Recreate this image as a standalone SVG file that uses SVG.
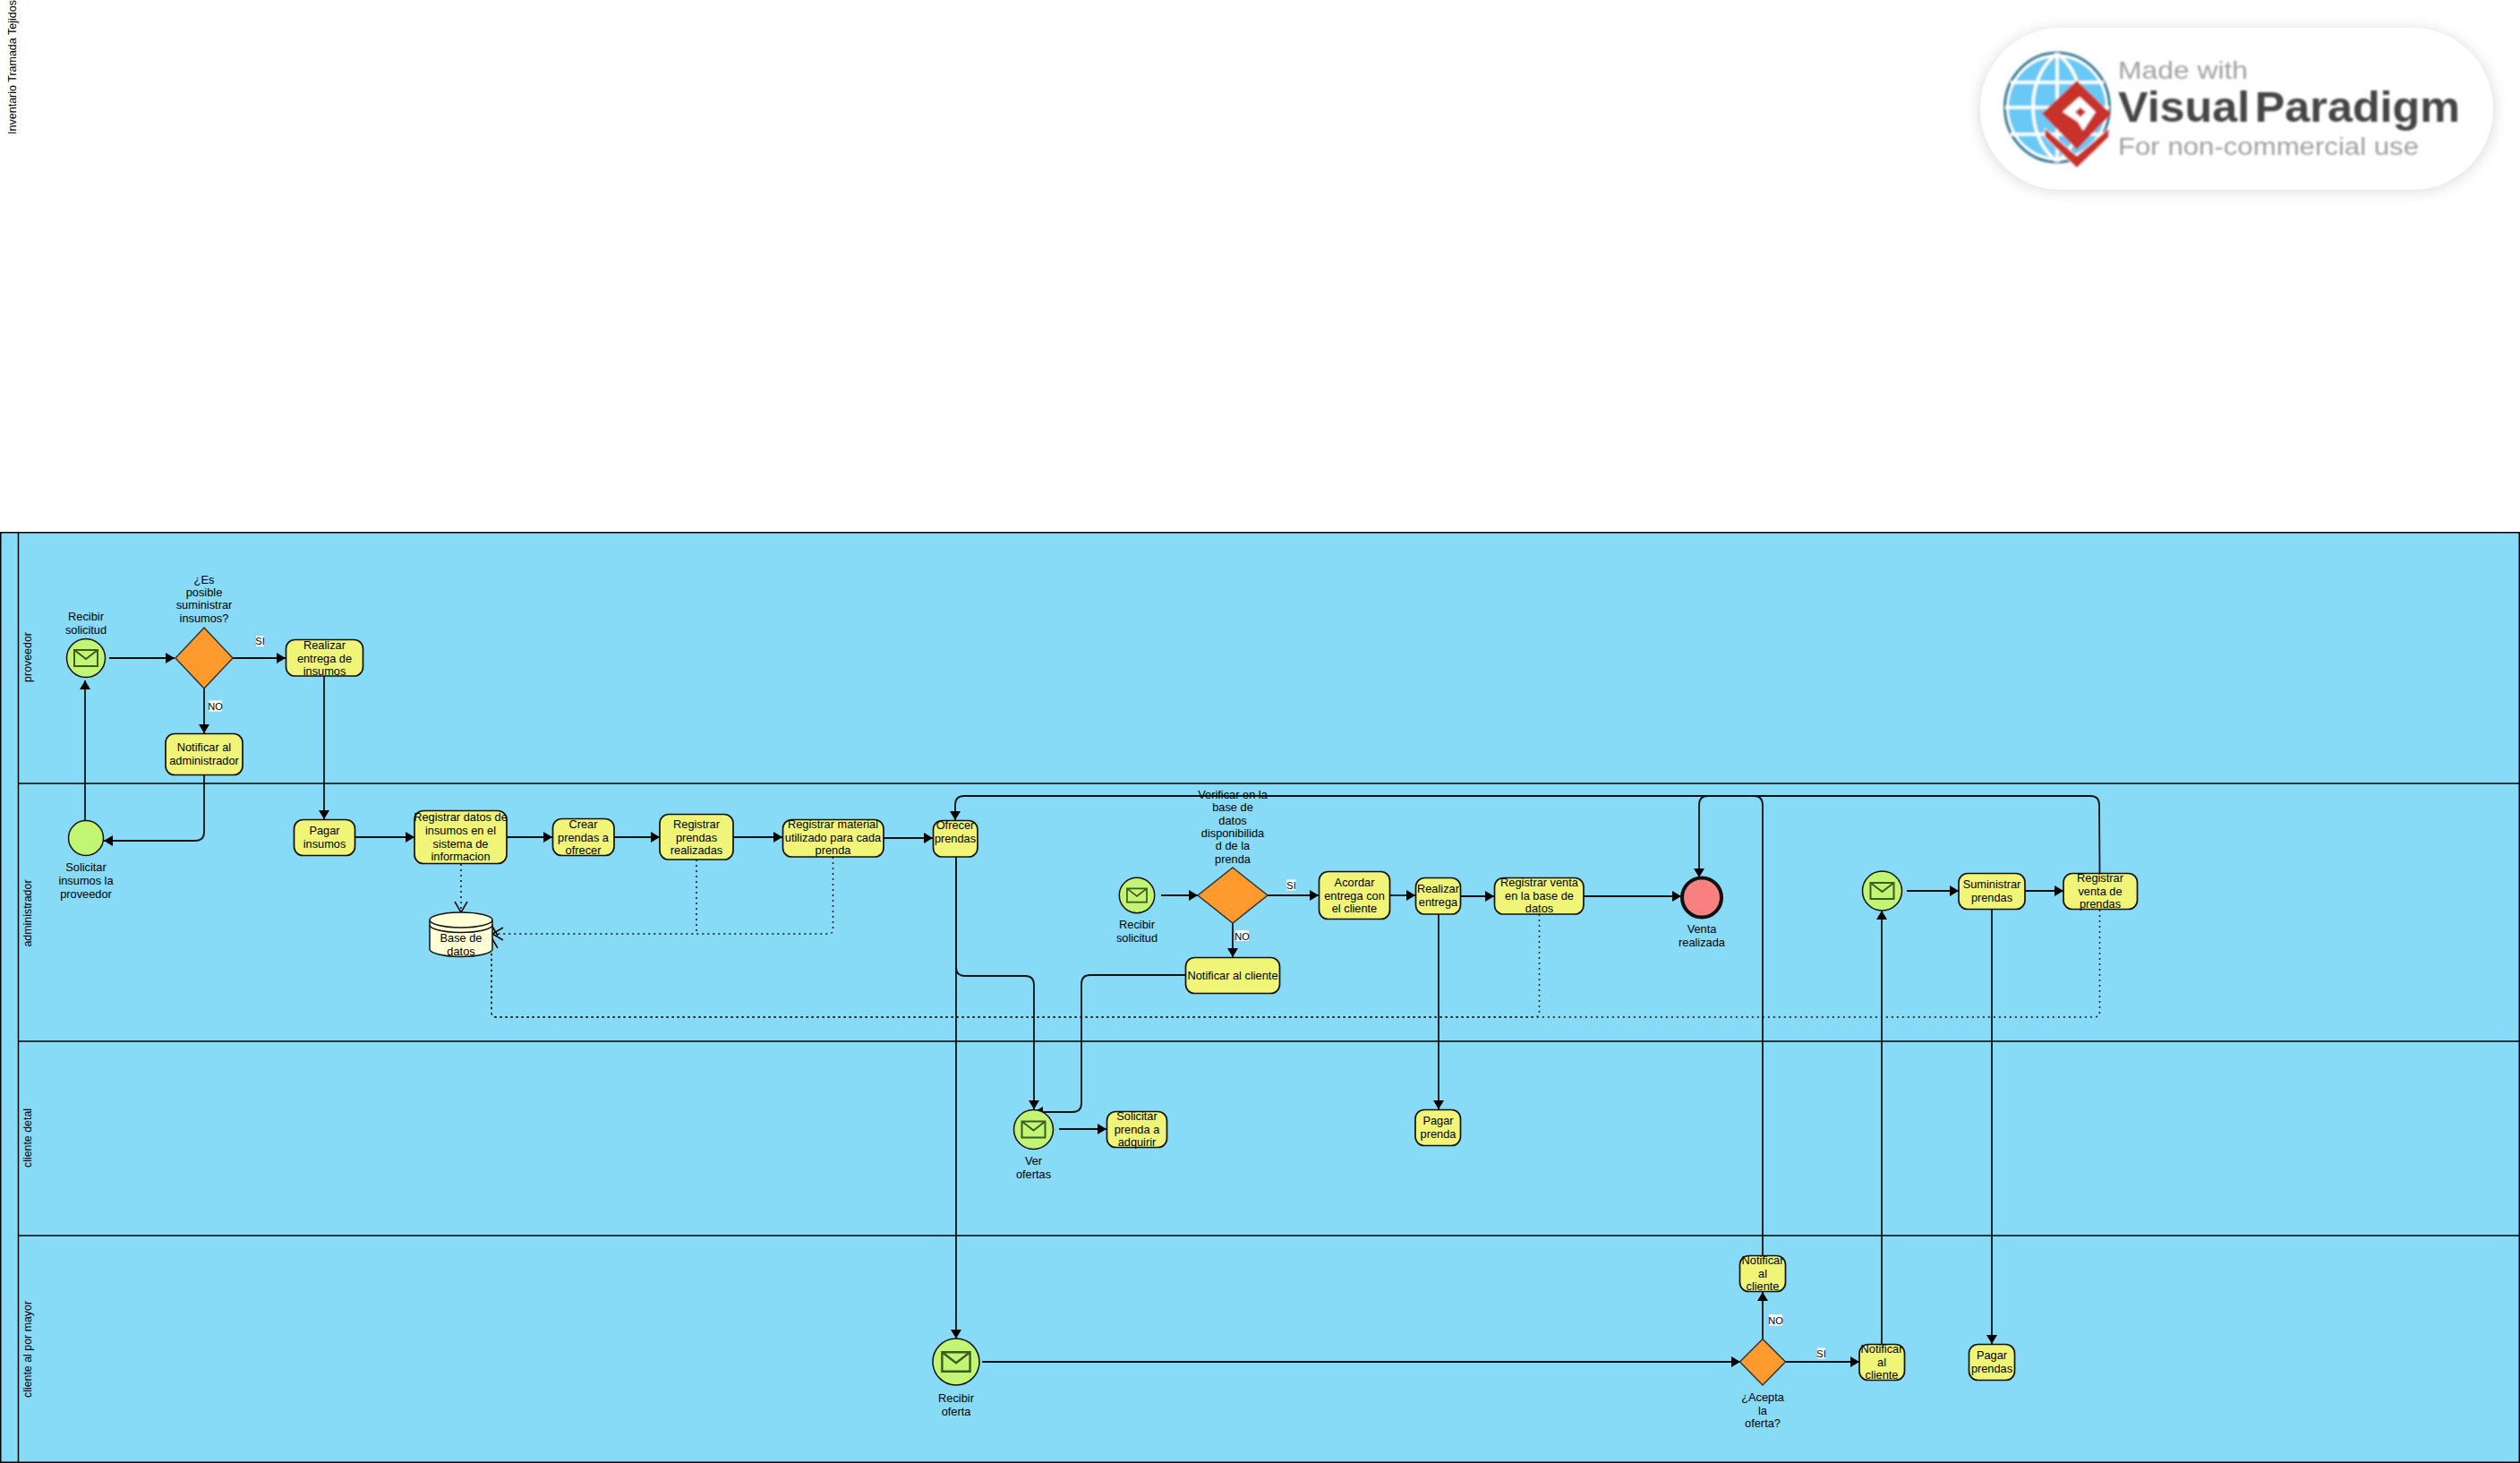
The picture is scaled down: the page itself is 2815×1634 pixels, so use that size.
<svg xmlns="http://www.w3.org/2000/svg" width="2815" height="1634" viewBox="0 0 2815 1634">
<style>
text{font-family:"Liberation Sans",Arial,sans-serif;font-size:12.8px;fill:#000;text-anchor:middle}
.rot{font-size:12.4px}
.lane{fill:#87dbf6;stroke:#000;stroke-width:1.5}
.task{fill:#f0f477;stroke:#111;stroke-width:1.7}
.ev{fill:#c3f575;stroke:#111;stroke-width:1.5}
.gw{fill:#ff9a2e;stroke:#333;stroke-width:1.5}
.env{fill:none;stroke:#3d5a20;stroke-width:2}
.flow{fill:none;stroke:#111;stroke-width:1.8;marker-end:url(#solid)}
.dot{fill:none;stroke:#111;stroke-width:1.5;stroke-dasharray:2 4}
.open{marker-end:url(#open)}
.lbl{fill:#fff}
.sm{font-size:11px}
.vp{text-anchor:start}
</style>
<defs>
<marker id="solid" markerUnits="userSpaceOnUse" markerWidth="12" markerHeight="12" refX="10" refY="6" orient="auto"><path d="M0 0L10 6L0 12Z" fill="#000"/></marker>
<marker id="open" markerUnits="userSpaceOnUse" markerWidth="14" markerHeight="16" refX="13" refY="8" orient="auto"><path d="M1 1L13 8L1 15" fill="none" stroke="#000" stroke-width="1.5"/></marker>
<filter id="sh" x="-10%" y="-25%" width="120%" height="150%"><feGaussianBlur stdDeviation="9"/></filter>
<filter id="soft" x="-5%" y="-5%" width="110%" height="110%"><feGaussianBlur stdDeviation="1.1"/></filter>
<path id="mail" d="M-13 -9H13V9H-13ZM-13 -9L0 1L13 -9"/>
</defs>
<rect width="2815" height="1634" fill="#fff"/>
<text class="rot" style="font-size:12.5px" transform="translate(18 75) rotate(-90)">Inventario Tramada Tejidos</text>
<g id="watermark">
<rect x="2212" y="34" width="573" height="178" rx="89" fill="#000" opacity=".16" filter="url(#sh)"/>
<rect x="2212" y="31" width="573" height="181" rx="90" fill="#fff"/>
<g filter="url(#soft)">
<ellipse cx="2298" cy="120" rx="54" ry="56" fill="#6ac8f5"/>
<ellipse cx="2298" cy="120" rx="58.5" ry="61" fill="none" stroke="#3b7d94" stroke-width="3"/>
<path d="M2298 60V180M2240 120H2356M2246 92H2350M2246 150H2350M2298 60C2262 85 2262 155 2298 180M2298 60C2334 85 2334 155 2298 180" fill="none" stroke="#fff" stroke-width="3.5"/>
<path d="M2284 143L2320 174L2356 143L2356 153L2320 188L2284 153Z" fill="#c8302c" stroke="#fff" stroke-width="1"/>
<path d="M2320 90L2358 127L2320 167L2281 127Z" fill="#c8302c"/>
<path d="M2323 108L2341 125L2327 146L2321 136L2304 125Z" fill="#fff"/>
<path d="M2324 120L2330 125L2324 131L2318 125Z" fill="#c8302c"/>
<text class="vp" x="2366" y="88" style="font-size:28px;fill:#a0a0a0" textLength="145" lengthAdjust="spacingAndGlyphs">Made with</text>
<text class="vp" x="2366" y="136" style="font-size:48px;font-weight:700;fill:#444;word-spacing:-8px" textLength="382" lengthAdjust="spacingAndGlyphs">Visual Paradigm</text>
<text class="vp" x="2366" y="173" style="font-size:27px;fill:#a0a0a0" textLength="336" lengthAdjust="spacingAndGlyphs">For non-commercial use</text>
</g>
</g>
<g id="pool">
<rect class="lane" x="0.75" y="594.75" width="2813.5" height="1038.5"/>
<path d="M20.5 594.75V1633.25M20.5 875H2814M20.5 1163H2814M20.5 1380H2814" fill="none" stroke="#000" stroke-width="1.5"/>
<text class="rot" transform="translate(35 734) rotate(-90)">proveedor</text>
<text class="rot" transform="translate(35 1020) rotate(-90)">administrador</text>
<text class="rot" transform="translate(35 1271) rotate(-90)">cliente detal</text>
<text class="rot" transform="translate(35 1507) rotate(-90)">cliente al por mayor</text>
</g>
<g id="connectors">
<path class="flow" d="M122 735H195"/>
<path class="flow" d="M260 735H319"/>
<path class="flow" d="M228 769V819"/>
<path class="flow" d="M228 865V929Q228 939 218 939H116"/>
<path class="flow" d="M95 916V760"/>
<path class="flow" d="M362 755V915"/>
<path class="flow" d="M397 935H463"/>
<path class="flow" d="M566 935H617"/>
<path class="flow" d="M686 935H737"/>
<path class="flow" d="M819 935H874"/>
<path class="flow" d="M987 936H1042"/>
<path class="flow" d="M2345.5 975L2345 899Q2345 889 2335 889H1077Q1067 889 1067 899V916"/>
<path class="flow" d="M1969 1402V899Q1969 889 1959 889H1908Q1898 889 1898 899V980"/>
<path class="flow" d="M1068 957V1495"/>
<path class="flow" d="M1068 957V1080Q1068 1090 1078 1090H1145Q1155 1090 1155 1100V1239"/>
<path class="flow" d="M1324 1089H1218Q1208 1089 1208 1099V1232Q1208 1242 1198 1242H1155"/>
<path class="flow" d="M1183 1261H1236"/>
<path class="flow" d="M1607 1021V1239"/>
<path class="flow" d="M1297 1000H1338"/>
<path class="flow" d="M1416 1000H1473"/>
<path class="flow" d="M1377 1031V1069"/>
<path class="flow" d="M1553 1000H1581"/>
<path class="flow" d="M1632 1001H1669"/>
<path class="flow" d="M1769 1001H1878"/>
<path class="flow" d="M2130 995H2188"/>
<path class="flow" d="M2262 995H2305"/>
<path class="flow" d="M2102 1501V1017"/>
<path class="flow" d="M2225 1016V1501"/>
<path class="flow" d="M1097 1521H1944"/>
<path class="flow" d="M1995 1521H2077"/>
<path class="flow" d="M1969 1496V1443"/>
<path class="dot open" d="M515 965V1019"/>
<path class="dot" d="M778 960V1043"/>
<path class="dot open" d="M930.5 957V1038Q930.5 1043 925 1043H550"/>
<path class="dot open" d="M1719.5 1021V1131Q1719.5 1136 1714 1136H555Q549 1136 549 1130V1047"/>
<path class="dot open" d="M2345.5 1016V1130Q2345.5 1136 2339 1136H555Q549 1136 549 1130V1033"/>
</g>
<g id="n-recibir-solicitud"><circle class="ev" cx="96" cy="735" r="21.5"/><use href="#mail" class="env" transform="translate(96 735)"/><text x="96" y="693">Recibir</text><text x="96" y="708">solicitud</text></g>
<g id="n-gw-insumos"><path class="gw" d="M228 701L260 735L228 769L196 735Z"/><text x="228" y="652">¿Es</text><text x="228" y="666">posible</text><text x="228" y="680">suministrar</text><text x="228" y="695">insumos?</text></g>
<g id="l-si-1"><rect class="lbl" x="286" y="710.5" width="9" height="11.5"/><text class="sm" x="290.5" y="720">SI</text></g>
<g id="l-no-1"><rect class="lbl" x="233" y="782.5" width="15" height="12"/><text class="sm" x="240.5" y="793">NO</text></g>
<g id="n-realizar-entrega-insumos"><rect class="task" x="319.5" y="714.5" width="86" height="40.5" rx="10"/><text x="362.5" y="725">Realizar</text><text x="362.5" y="740">entrega de</text><text x="362.5" y="754">insumos</text></g>
<g id="n-notificar-admin"><rect class="task" x="185" y="819.5" width="86" height="46" rx="10"/><text x="228" y="839">Notificar al</text><text x="228" y="854">administrador</text></g>
<g id="n-solicitar"><circle class="ev" cx="96" cy="936" r="19.5"/><text x="96" y="973">Solicitar</text><text x="96" y="988">insumos la</text><text x="96" y="1003">proveedor</text></g>
<g id="n-pagar-insumos"><rect class="task" x="328.5" y="915.5" width="68" height="40" rx="10"/><text x="362.5" y="932">Pagar</text><text x="362.5" y="947">insumos</text></g>
<g id="n-registrar-datos"><rect class="task" x="463" y="905.5" width="103" height="59" rx="10"/><text x="514.5" y="917">Registrar datos de</text><text x="514.5" y="932">insumos en el</text><text x="514.5" y="947">sistema de</text><text x="514.5" y="961">informacion</text></g>
<g id="n-crear"><rect class="task" x="617.5" y="914.5" width="68.5" height="41" rx="10"/><text x="651.5" y="925">Crear</text><text x="651.5" y="940">prendas a</text><text x="651.5" y="954">ofrecer</text></g>
<g id="n-registrar-prendas"><rect class="task" x="737" y="909.5" width="82" height="50.5" rx="10"/><text x="778" y="925">Registrar</text><text x="778" y="940">prendas</text><text x="778" y="954">realizadas</text></g>
<g id="n-registrar-material"><rect class="task" x="874.5" y="915.5" width="112.5" height="41.5" rx="10"/><text x="930.5" y="925">Registrar material</text><text x="930.5" y="940">utilizado para cada</text><text x="930.5" y="954">prenda</text></g>
<g id="n-ofrecer"><rect class="task" x="1042.5" y="916.5" width="49.5" height="40.5" rx="10"/><text x="1067" y="926">Ofrecer</text><text x="1067" y="941">prendas</text></g>
<g id="n-base-datos"><path d="M480 1027.5A35 8.5 0 0 1 550 1027.5V1060A35 8.5 0 0 1 480 1060Z" fill="#ffffd8" stroke="#111" stroke-width="1.5"/><path d="M480 1027.5A35 8.5 0 0 0 550 1027.5M480 1033A35 8.5 0 0 0 550 1033" fill="none" stroke="#111" stroke-width="1.5"/><text x="515" y="1052">Base de</text><text x="515" y="1067">datos</text></g>
<g id="n-recibir-solicitud-2"><ellipse class="ev" cx="1270" cy="1000" rx="19.7" ry="19.7"/><use href="#mail" class="env" transform="translate(1270 1000) scale(.85)"/><text x="1270" y="1037">Recibir</text><text x="1270" y="1052">solicitud</text></g>
<g id="n-gw-verificar"><path class="gw" d="M1377 969L1416 1000L1377 1031L1338 1000Z"/><text x="1377" y="892">Verificar en la</text><text x="1377" y="906">base de</text><text x="1377" y="921">datos</text><text x="1377" y="935">disponibilida</text><text x="1377" y="949">d de la</text><text x="1377" y="964">prenda</text></g>
<g id="l-si-2"><rect class="lbl" x="1437.5" y="982.5" width="10" height="12"/><text class="sm" x="1442.5" y="992.5">SI</text></g>
<g id="l-no-2"><rect class="lbl" x="1380" y="1039" width="15" height="12"/><text class="sm" x="1387.5" y="1049.5">NO</text></g>
<g id="n-acordar"><rect class="task" x="1473.5" y="973.5" width="79" height="53" rx="10"/><text x="1513" y="990">Acordar</text><text x="1513" y="1005">entrega con</text><text x="1513" y="1019">el cliente</text></g>
<g id="n-realizar-entrega"><rect class="task" x="1581.5" y="980.5" width="50" height="40.5" rx="10"/><text x="1606.5" y="997">Realizar</text><text x="1606.5" y="1012">entrega</text></g>
<g id="n-registrar-venta"><rect class="task" x="1669.5" y="980.5" width="99.5" height="40.5" rx="10"/><text x="1719.5" y="990">Registrar venta</text><text x="1719.5" y="1005">en la base de</text><text x="1719.5" y="1019">datos</text></g>
<g id="n-venta"><circle cx="1901" cy="1002.5" r="22" fill="#f88080" stroke="#111" stroke-width="4"/><text x="1901" y="1042">Venta</text><text x="1901" y="1057">realizada</text></g>
<g id="n-notificar-cliente"><rect class="task" x="1324.5" y="1069.5" width="105" height="40" rx="10"/><text x="1377" y="1094">Notificar al cliente</text></g>
<g id="n-mensaje"><circle class="ev" cx="2102.5" cy="995" r="22"/><use href="#mail" class="env" transform="translate(2102.5 995)"/></g>
<g id="n-suministrar"><rect class="task" x="2188" y="975.5" width="74" height="40" rx="10"/><text x="2225" y="992">Suministrar</text><text x="2225" y="1007">prendas</text></g>
<g id="n-registrar-venta-prendas"><rect class="task" x="2305" y="975.5" width="82.5" height="40" rx="10"/><text x="2346" y="985">Registrar</text><text x="2346" y="1000">venta de</text><text x="2346" y="1014">prendas</text></g>
<g id="n-ver-ofertas"><circle class="ev" cx="1154.5" cy="1261.5" r="22"/><use href="#mail" class="env" transform="translate(1154.5 1261.5)"/><text x="1154.5" y="1301">Ver</text><text x="1154.5" y="1316">ofertas</text></g>
<g id="n-solicitar-prenda"><rect class="task" x="1236.5" y="1241.5" width="67" height="40" rx="10"/><text x="1270" y="1251">Solicitar</text><text x="1270" y="1266">prenda a</text><text x="1270" y="1280">adquirir</text></g>
<g id="n-pagar-prenda"><rect class="task" x="1581" y="1239.5" width="50.5" height="40" rx="10"/><text x="1606.5" y="1256">Pagar</text><text x="1606.5" y="1271">prenda</text></g>
<g id="n-recibir-oferta"><circle class="ev" cx="1068" cy="1521" r="26"/><use href="#mail" class="env" transform="translate(1068 1521) scale(1.2)"/><text x="1068" y="1566">Recibir</text><text x="1068" y="1581">oferta</text></g>
<g id="n-gw-acepta"><path class="gw" d="M1969 1495.5L1994.5 1521L1969 1547L1943.5 1521Z"/><text x="1969" y="1565">¿Acepta</text><text x="1969" y="1580">la</text><text x="1969" y="1594">oferta?</text></g>
<g id="l-no-3"><rect class="lbl" x="1976" y="1468" width="15" height="12.5"/><text class="sm" x="1983.5" y="1479">NO</text></g>
<g id="l-si-3"><rect class="lbl" x="2030" y="1505.5" width="9" height="12"/><text class="sm" x="2034.5" y="1516">SI</text></g>
<g id="n-notificar-no"><rect class="task" x="1943.5" y="1402.5" width="51" height="40" rx="10"/><text x="1969" y="1412">Notificar</text><text x="1969" y="1427">al</text><text x="1969" y="1441">cliente</text></g>
<g id="n-notificar-si"><rect class="task" x="2077" y="1501.5" width="50.5" height="40" rx="10"/><text x="2102" y="1511">Notificar</text><text x="2102" y="1526">al</text><text x="2102" y="1540">cliente</text></g>
<g id="n-pagar-prendas"><rect class="task" x="2199.5" y="1501.5" width="51" height="40" rx="10"/><text x="2225" y="1518">Pagar</text><text x="2225" y="1533">prendas</text></g>
</svg>
